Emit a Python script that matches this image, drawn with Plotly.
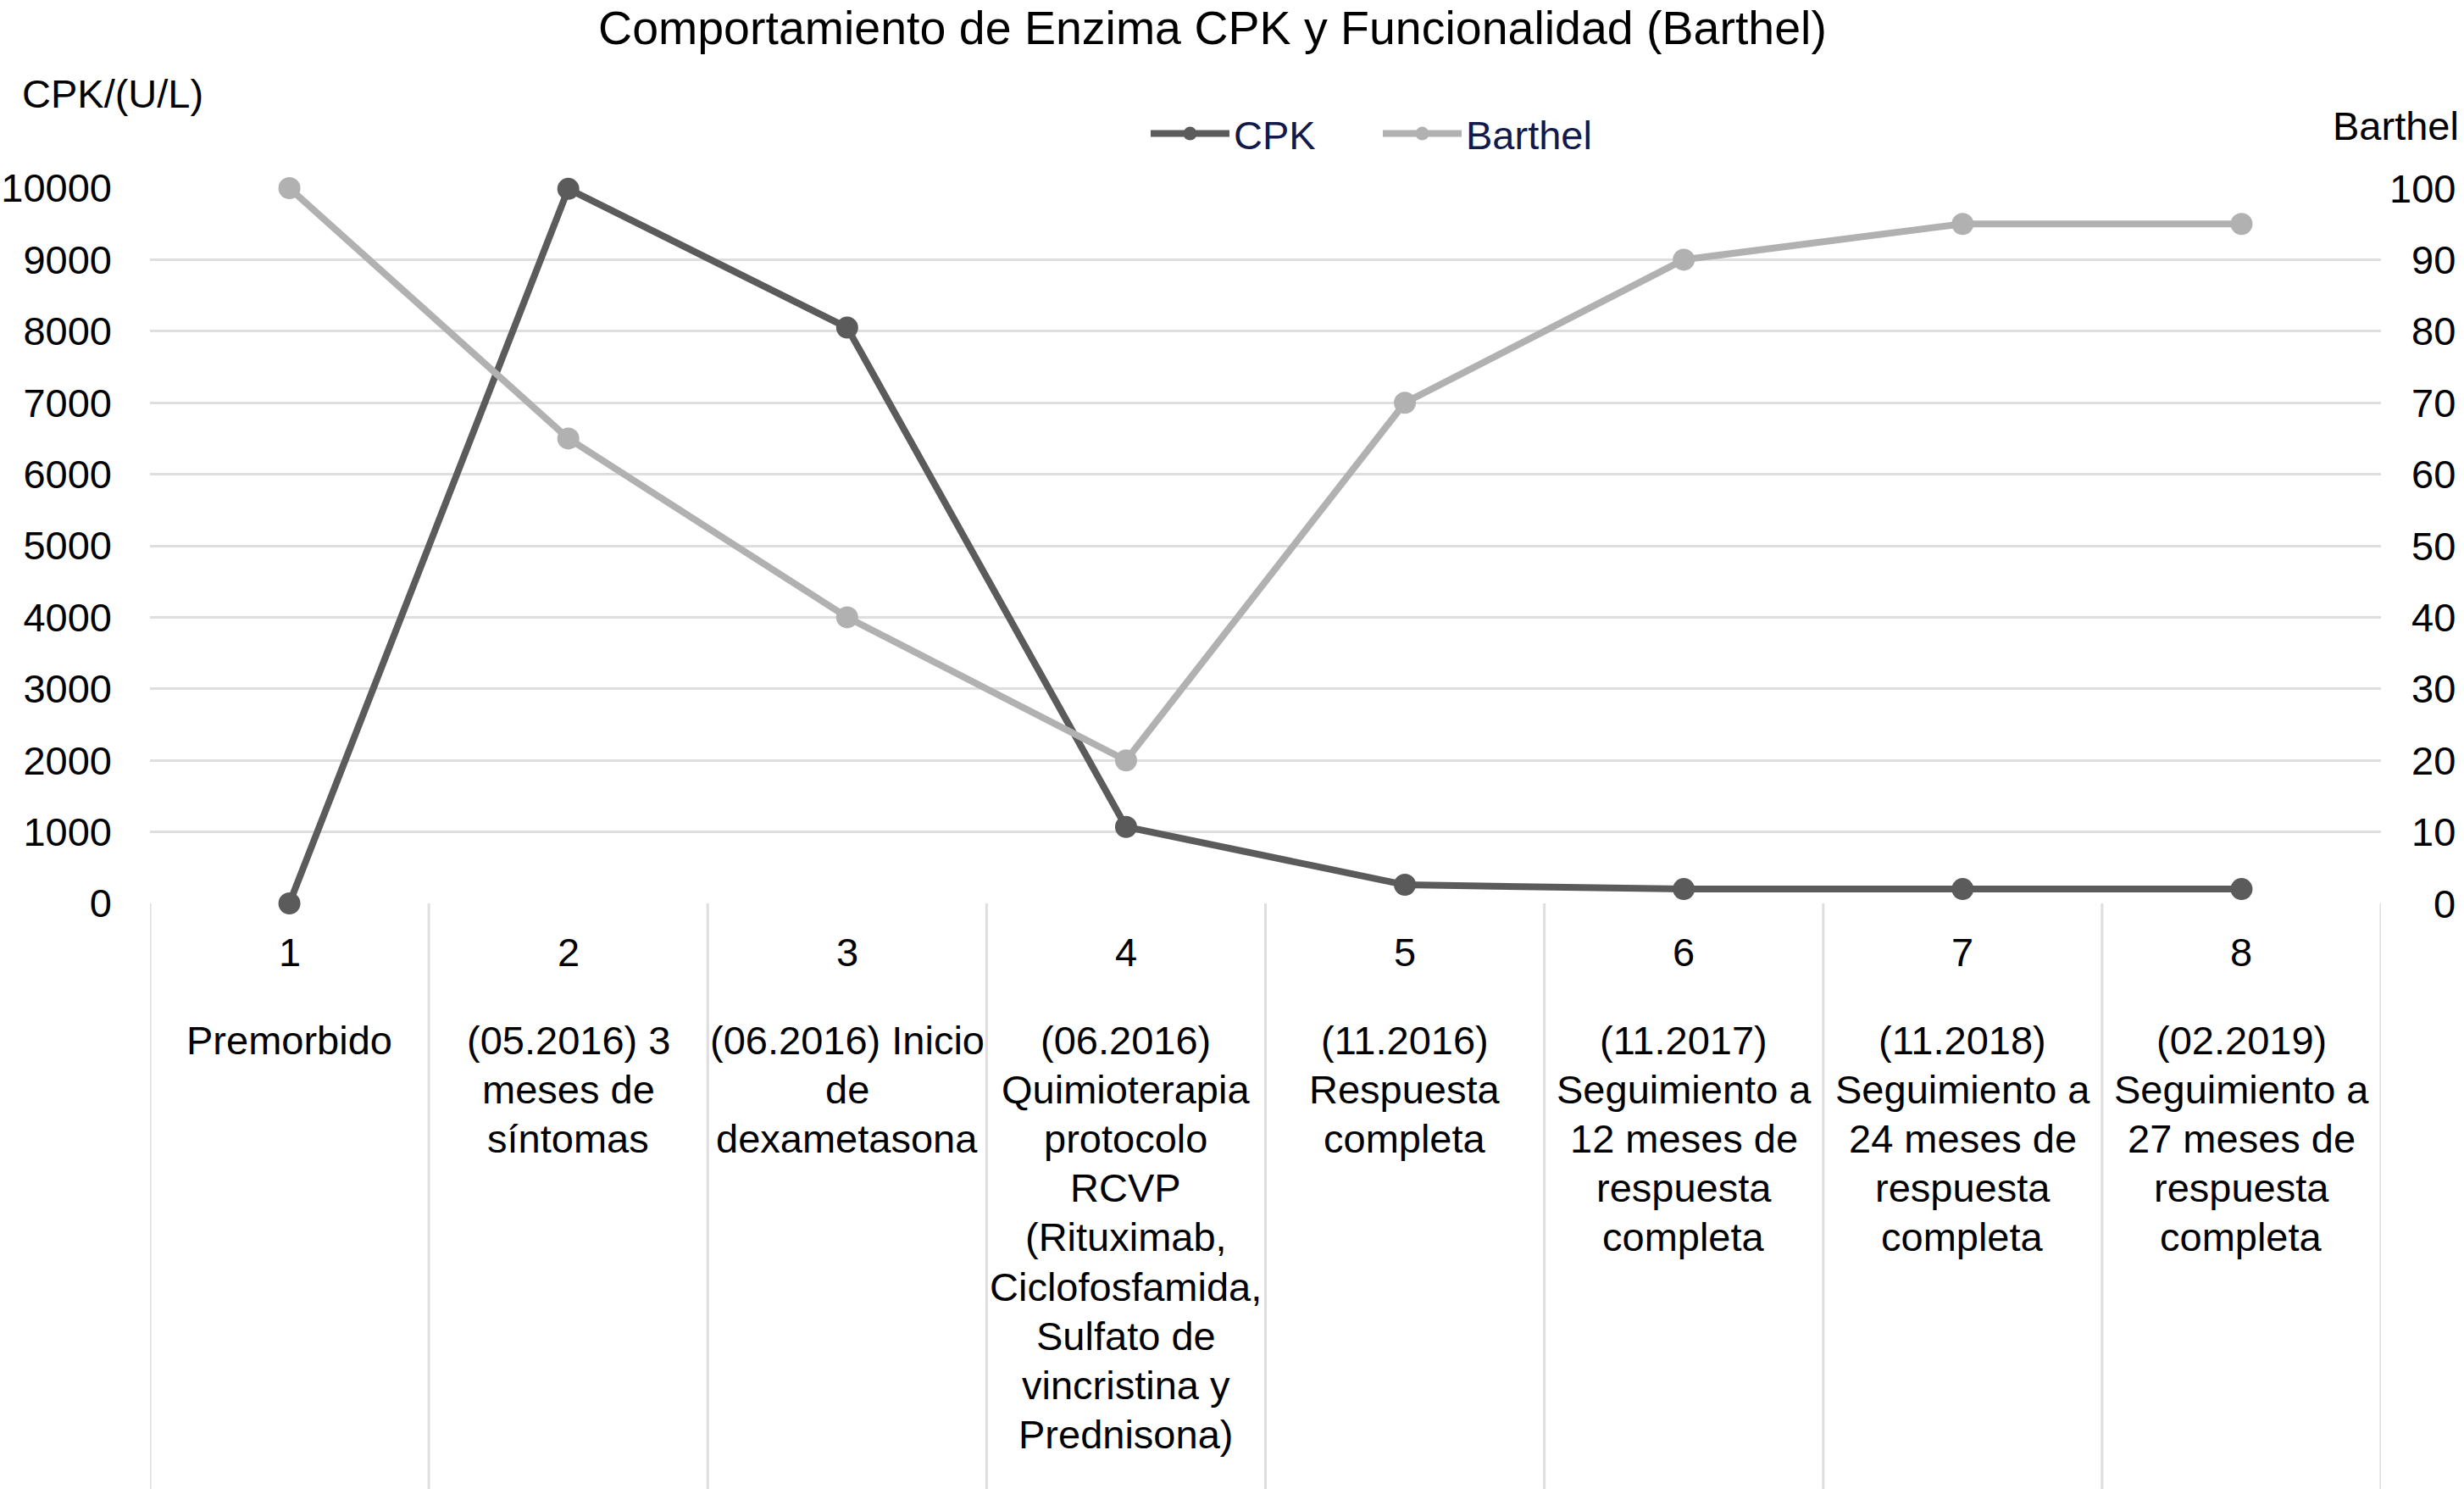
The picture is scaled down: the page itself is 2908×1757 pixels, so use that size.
import plotly.graph_objects as go

# ---------------- data ----------------
categories = [1, 2, 3, 4, 5, 6, 7, 8]
cpk = [0, 9990, 8050, 1070, 260, 200, 200, 200]
barthel = [100, 65, 40, 20, 70, 90, 95, 95]
category_labels = [
    ["Premorbido"],
    ["(05.2016) 3", "meses de", "síntomas"],
    ["(06.2016) Inicio", "de", "dexametasona"],
    ["(06.2016)", "Quimioterapia", "protocolo", "RCVP", "(Rituximab,",
     "Ciclofosfamida,", "Sulfato de", "vincristina y", "Prednisona)"],
    ["(11.2016)", "Respuesta", "completa"],
    ["(11.2017)", "Seguimiento a", "12 meses de", "respuesta", "completa"],
    ["(11.2018)", "Seguimiento a", "24 meses de", "respuesta", "completa"],
    ["(02.2019)", "Seguimiento a", "27 meses de", "respuesta", "completa"],
]
cpk_ticks = [0, 1000, 2000, 3000, 4000, 5000, 6000, 7000, 8000, 9000, 10000]
barthel_ticks = [0, 10, 20, 30, 40, 50, 60, 70, 80, 90, 100]

title_text = "Comportamiento de Enzima CPK y Funcionalidad (Barthel)"
left_title = "CPK/(U/L)"
right_title = "Barthel"

# ---------------- style ----------------
FONT = "Liberation Sans, Arial, Helvetica, sans-serif"
W, H = 2908, 1757
ML, MR, MT, MB = 177, 98, 222, 691
PLOT_H = H - MT - MB
CPK_COLOR = "#5b5b5b"
BAR_COLOR = "#b1b1b1"
GRID = "#dedede"
FS = 47

fig = go.Figure()
fig.add_trace(go.Scatter(
    x=categories, y=cpk, name="CPK", mode="lines+markers",
    line=dict(color=CPK_COLOR, width=8),
    marker=dict(color=CPK_COLOR, size=26),
    cliponaxis=False, yaxis="y",
))
fig.add_trace(go.Scatter(
    x=categories, y=barthel, name="Barthel", mode="lines+markers",
    line=dict(color=BAR_COLOR, width=8),
    marker=dict(color=BAR_COLOR, size=26),
    cliponaxis=False, yaxis="y2",
))

annotations = []
# category numbers and descriptive labels below the axis
for c, lines in zip(categories, category_labels):
    annotations.append(dict(
        x=c, xref="x", y=0, yref="paper", yanchor="middle", xanchor="center",
        yshift=-57, text=str(c), showarrow=False,
        font=dict(family=FONT, size=FS, color="black")))
    for i, ln in enumerate(lines):
        annotations.append(dict(
            x=c, xref="x", y=0, yref="paper", yanchor="middle", xanchor="center",
            yshift=-(161 + 58.2 * i), text=ln, showarrow=False,
            font=dict(family=FONT, size=FS, color="black")))

# right-axis tick labels (right aligned)
for t in barthel_ticks:
    annotations.append(dict(
        x=1, xref="paper", y=t, yref="y2", xanchor="right", yanchor="middle",
        xshift=90, text=str(t), showarrow=False,
        font=dict(family=FONT, size=FS, color="black")))

# axis titles
annotations.append(dict(
    x=0, xref="paper", y=1, yref="paper", xanchor="left", yanchor="middle",
    xshift=24 - ML, yshift=MT - 110, text=left_title, showarrow=False,
    font=dict(family=FONT, size=FS, color="black")))
annotations.append(dict(
    x=1, xref="paper", y=1, yref="paper", xanchor="right", yanchor="middle",
    xshift=94, yshift=MT - 148, text=right_title, showarrow=False,
    font=dict(family=FONT, size=FS, color="black")))

# category divider lines below the axis
bottom = -(H - MT - PLOT_H) / PLOT_H
boundaries = [c - 0.5 for c in categories] + [categories[-1] + 0.5]
shapes = [dict(type="line", xref="x", yref="paper", x0=b, x1=b, y0=0, y1=bottom,
               line=dict(color=GRID, width=3), layer="below")
          for b in boundaries]

fig.update_layout(
    width=W, height=H, autosize=False,
    paper_bgcolor="white", plot_bgcolor="white",
    margin=dict(l=ML, r=MR, t=MT, b=MB, pad=0, autoexpand=False),
    font=dict(family=FONT, size=FS, color="black"),
    title=dict(text=title_text, x=1431 / W, xanchor="center",
               y=1 - 33 / H, yanchor="middle",
               font=dict(family=FONT, size=55.5, color="black")),
    showlegend=True,
    legend=dict(orientation="h", x=(1353 - ML) / (W - ML - MR), xanchor="left",
                y=1 + (MT - 158) / PLOT_H, yanchor="middle",
                font=dict(family=FONT, size=FS, color="#111a4a"),
                itemwidth=93, entrywidth=166, bgcolor="rgba(0,0,0,0)"),
    xaxis=dict(range=[0.5, 8.5], showgrid=False, zeroline=False,
               showticklabels=False, showline=False, ticks="", fixedrange=True,
               automargin=False),
    yaxis=dict(range=[0, 10000], tickvals=cpk_ticks,
               ticktext=[str(t) for t in cpk_ticks], showgrid=True,
               gridcolor=GRID, gridwidth=3, zeroline=False, showline=False,
               ticks="", ticklabelstandoff=44, automargin=False,
               tickfont=dict(family=FONT, size=FS, color="black")),
    yaxis2=dict(range=[0, 100], tickvals=barthel_ticks, overlaying="y",
                side="right", showgrid=False, zeroline=False, showline=False,
                showticklabels=False, ticks="", automargin=False),
    annotations=annotations,
    shapes=shapes,
)

fig.write_html(
    "out.html",
    config={"displayModeBar": False},
    post_script="document.body.style.margin='0px';document.body.style.overflow='hidden';",
)
